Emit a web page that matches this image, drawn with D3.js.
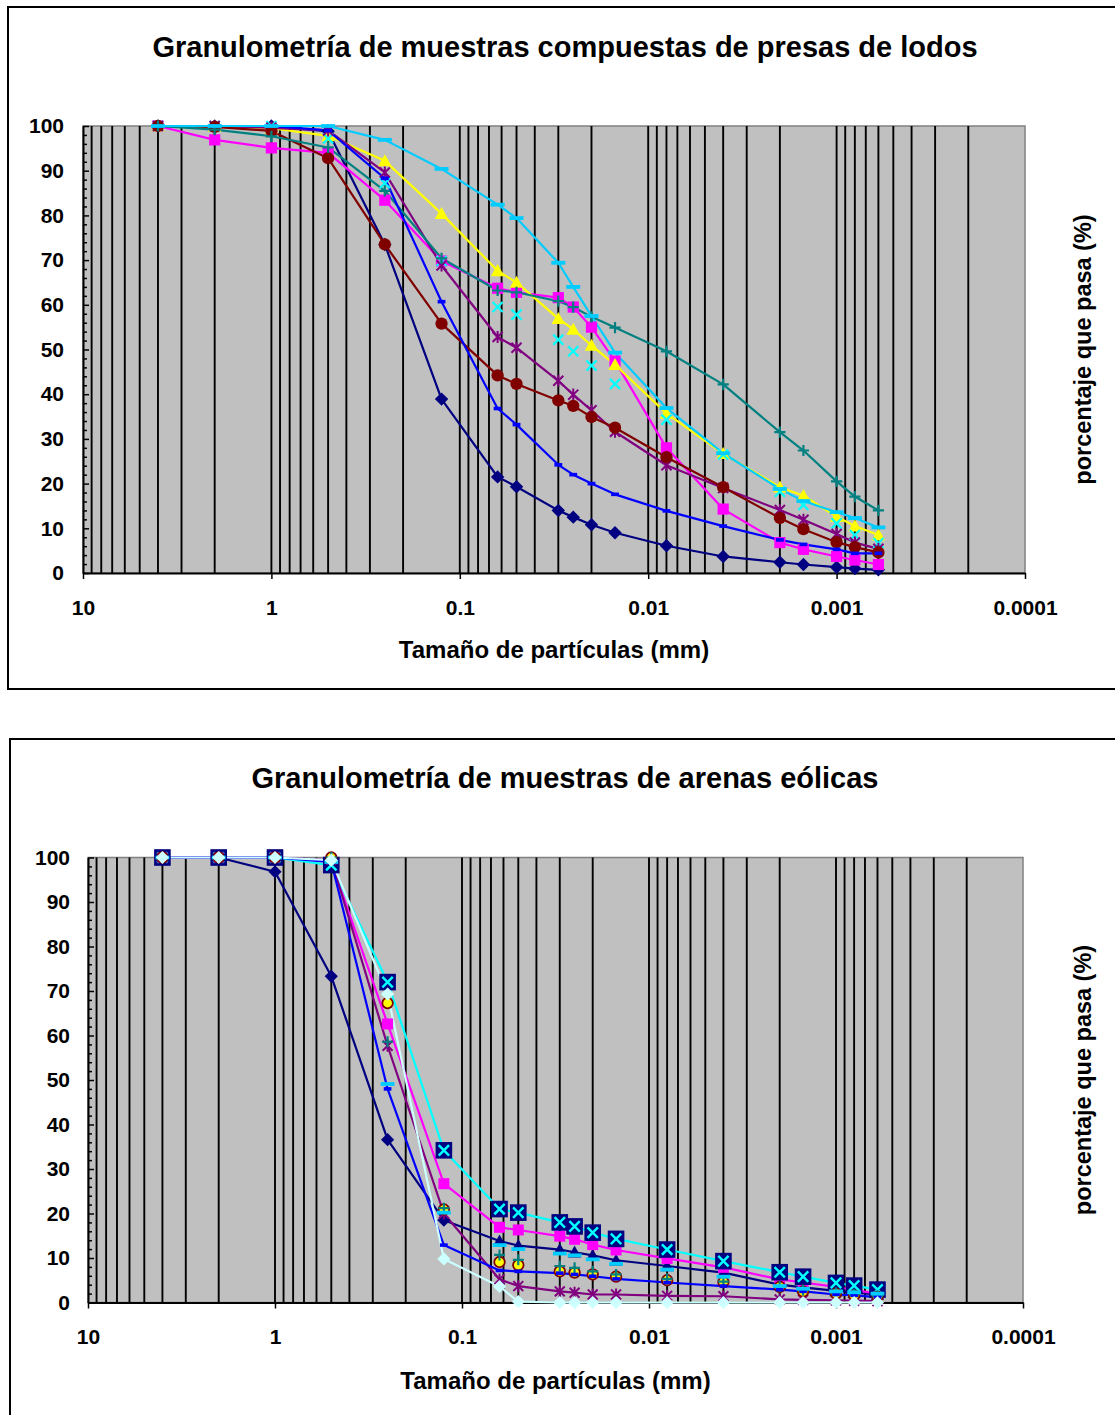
<!DOCTYPE html>
<html>
<head>
<meta charset="utf-8">
<script src="https://cdn.jsdelivr.net/npm/d3@7"></script>
<style>
  html, body { margin: 0; padding: 0; background: #fff; }
  svg { display: block; }
  text { font-family: "Liberation Sans", Arial, sans-serif; font-weight: bold; fill: #000; }
</style>
</head>
<body>
<svg id="chart" width="1115" height="1415"></svg>
<script>
// Particle diameters (mm): sieves, then hydrometer readings
const sizesMm = [4, 2, 1, 0.5, 0.25, 0.125, 0.063, 0.05, 0.03, 0.025, 0.02, 0.015, 0.008, 0.004, 0.002, 0.0015, 0.001, 0.0008, 0.0006];
const hydrometerStart = 6;

const xTickValues = [10, 1, 0.1, 0.01, 0.001, 0.0001];
const xTickLabels = ["10", "1", "0.1", "0.01", "0.001", "0.0001"];
const yTickValues = [0, 10, 20, 30, 40, 50, 60, 70, 80, 90, 100];

// Percent passing — composite tailings-dam samples
const lodos1 = [100, 100, 100, 98.8, 73.5, 38.9, 21.5, 19.3, 14.0, 12.5, 10.8, 9.0, 6.1, 3.7, 2.4, 1.9, 1.3, 1.0, 0.7];
const lodos2 = [100, 96.9, 95.1, 94.0, 83.4, 69.8, 63.7, 62.8, 61.6, 59.5, 55.0, 47.4, 28.0, 14.3, 6.8, 5.3, 3.7, 2.9, 1.9];
const lodos3 = [100, 100, 99.5, 97.8, 92.2, 80.4, 67.6, 65.0, 56.9, 54.5, 50.9, 46.6, 35.7, 26.7, 19.2, 17.3, 12.6, 10.5, 8.5];
const lodos4 = [100, 100, 100, 97.2, 87.2, 69.8, 59.5, 57.8, 52.2, 49.6, 46.4, 42.3, 34.3, 26.5, 18.2, 15.2, 11.1, 8.5, 6.7];
const lodos5 = [100, 100, 99.6, 99.0, 89.6, 68.8, 52.8, 50.4, 43.0, 39.9, 36.4, 31.6, 24.1, 19.0, 14.1, 11.9, 8.7, 6.8, 5.4];
const lodos6 = [100, 99.8, 98.9, 92.8, 73.5, 55.8, 44.2, 42.3, 38.6, 37.4, 34.9, 32.5, 25.9, 19.2, 12.3, 9.8, 6.9, 5.8, 4.6];
const lodos7 = [100, 99.2, 97.7, 95.2, 85.5, 70.4, 63.2, 62.8, 60.8, 59.5, 57.3, 54.9, 49.6, 42.2, 31.5, 27.4, 20.5, 17.1, 14.0];
const lodos8 = [100, 100, 100, 99.0, 88.3, 60.7, 36.8, 33.2, 24.2, 22.0, 20.0, 17.6, 13.9, 10.5, 7.4, 6.4, 5.3, 4.4, 4.4];
const lodos9 = [100, 100, 100, 100, 96.9, 90.4, 82.4, 79.4, 69.4, 64.0, 57.5, 49.3, 36.9, 26.8, 18.8, 16.1, 13.6, 12.3, 10.2];

// Percent passing — aeolian sand samples
const arenas1 = [100, 100, 96.8, 73.3, 36.6, 18.5, 13.8, 12.8, 11.9, 11.3, 10.6, 9.5, 8.2, 6.7, 4.0, 3.4, 2.6, 2.2, 1.8];
const arenas2 = [100, 100, 100, 99.0, 62.6, 26.7, 16.9, 16.3, 14.9, 14.2, 13.0, 11.8, 9.9, 7.9, 5.2, 4.5, 3.5, 2.8, 2.0];
const arenas3 = [100, 100, 100, 100, 67.3, 20.9, 9.1, 8.4, 7.0, 6.7, 6.3, 5.8, 5.0, 4.6, 3.5, 2.5, 2.0, 1.6, 1.3];
const arenas4 = [100, 100, 100, 98.3, 72.0, 34.2, 21.0, 20.2, 18.0, 17.1, 15.7, 14.3, 11.9, 9.3, 6.8, 5.8, 4.4, 3.8, 2.9];
const arenas5 = [100, 100, 100, 99.5, 57.7, 20.0, 5.2, 3.7, 2.5, 2.2, 1.8, 1.8, 1.5, 1.4, 0.7, 0.6, 0.5, 0.4, 0.3];
const arenas6 = [100, 100, 100, 100, 58.6, 21.2, 10.7, 9.6, 8.2, 7.8, 7.0, 6.3, 5.3, 4.7, 3.6, 2.8, 2.2, 1.8, 1.4];
const arenas7 = [100, 100, 100, 99.0, 48.0, 12.9, 7.2, 7.0, 6.6, 6.3, 5.9, 5.3, 4.5, 3.7, 2.9, 2.5, 1.8, 1.6, 1.2];
const arenas8 = [100, 100, 100, 99.0, 49.1, 20.2, 12.9, 12.0, 11.0, 10.6, 9.7, 8.7, 7.4, 5.8, 3.7, 3.1, 2.5, 2.3, 2.0];
const arenas9 = [100, 100, 100, 99.4, 69.3, 9.8, 3.6, 0.2, 0, 0, 0, 0, 0, 0, 0, 0, 0, 0, 0];

const lodosSeries = [
  { values: lodos1, color: "#000080", marker: "diamond", line: true },
  { values: lodos2, color: "#FF00FF", marker: "square", line: true },
  { values: lodos3, color: "#FFFF00", marker: "triangle", line: true },
  { values: lodos4, color: "#00FFFF", marker: "cross", line: false },
  { values: lodos5, color: "#800080", marker: "star", line: true },
  { values: lodos6, color: "#800000", marker: "circle", line: true },
  { values: lodos7, color: "#008080", marker: "plus", line: true },
  { values: lodos8, color: "#0000FF", marker: "dash", line: true },
  { values: lodos9, color: "#00CCFF", marker: "longdash", line: true }
];

const arenasSeries = [
  { values: arenas1, color: "#000080", marker: "diamond", hydroMarker: "triangle", line: true },
  { values: arenas2, color: "#FF00FF", marker: "square", line: true },
  { values: arenas4, color: "#00FFFF", marker: "xbox", line: true },
  { values: arenas5, color: "#800080", marker: "star", line: true },
  { values: arenas3, color: "#800000", marker: "ring", line: false },
  { values: arenas6, color: "#008080", marker: "plus", line: false },
  { values: arenas7, color: "#0000FF", marker: "dash", line: true },
  { values: arenas8, color: "#00CCFF", marker: "longdash", line: false },
  { values: arenas9, color: "#CCFFFF", marker: "diamond", line: true }
];

const svg = d3.select("#chart");

function drawMarker(g, type, x, y, color, s) {
  switch (type) {
    case "diamond": {
      const r = 6 * s;
      g.append("path").attr("d", `M${x},${y - r}L${x + r},${y}L${x},${y + r}L${x - r},${y}Z`).attr("fill", color);
      break;
    }
    case "square": {
      const r = 5 * s;
      g.append("rect").attr("x", x - r).attr("y", y - r).attr("width", 2 * r).attr("height", 2 * r).attr("fill", color);
      break;
    }
    case "triangle": {
      const r = 6 * s;
      g.append("path").attr("d", `M${x},${y - r}L${x + r},${y + r * 0.8}L${x - r},${y + r * 0.8}Z`).attr("fill", color);
      break;
    }
    case "cross": {
      const r = 4.5 * s;
      g.append("path").attr("d", `M${x - r},${y - r}L${x + r},${y + r}M${x - r},${y + r}L${x + r},${y - r}`)
        .attr("stroke", color).attr("stroke-width", 2.2).attr("fill", "none");
      break;
    }
    case "star": {
      const r = 4.5 * s;
      g.append("path").attr("d", `M${x - r},${y - r}L${x + r},${y + r}M${x - r},${y + r}L${x + r},${y - r}M${x},${y - r - 1}L${x},${y + r + 1}`)
        .attr("stroke", color).attr("stroke-width", 2).attr("fill", "none");
      break;
    }
    case "plus": {
      const r = 5 * s;
      g.append("path").attr("d", `M${x - r},${y}L${x + r},${y}M${x},${y - r}L${x},${y + r}`)
        .attr("stroke", color).attr("stroke-width", 2.2).attr("fill", "none");
      break;
    }
    case "circle": {
      g.append("circle").attr("cx", x).attr("cy", y).attr("r", 5.5 * s).attr("fill", color);
      break;
    }
    case "ring": {
      g.append("circle").attr("cx", x).attr("cy", y).attr("r", 4.8 * s)
        .attr("fill", "#FFFF00").attr("stroke", color).attr("stroke-width", 1.8);
      break;
    }
    case "dash": {
      const w = 7 * s, h = 3.6;
      g.append("rect").attr("x", x - w / 2).attr("y", y - h / 2).attr("width", w).attr("height", h).attr("fill", color);
      break;
    }
    case "longdash": {
      const w = 12.5 * s, h = 3.8;
      g.append("rect").attr("x", x - w / 2).attr("y", y - h / 2).attr("width", w).attr("height", h).attr("fill", color);
      break;
    }
    case "xbox": {
      const b = 8.3, r = 5.2;
      g.append("rect").attr("x", x - b).attr("y", y - b).attr("width", 2 * b).attr("height", 2 * b).attr("fill", "#000080");
      g.append("path").attr("d", `M${x - r},${y - r}L${x + r},${y + r}M${x - r},${y + r}L${x + r},${y - r}`)
        .attr("stroke", color).attr("stroke-width", 2.5).attr("fill", "none");
      break;
    }
  }
}

function drawPanel(p) {
  const root = svg.append("g");

  // outer chart frame
  root.append("rect")
    .attr("x", p.frame[0]).attr("y", p.frame[1])
    .attr("width", p.frame[2]).attr("height", p.frame[3])
    .attr("fill", "#fff").attr("stroke", "#000").attr("stroke-width", 2);

  const x = d3.scaleLog().domain([10, 0.0001]).range([p.left, p.right]);
  const y = d3.scaleLinear().domain([0, 100]).range([p.bottom, p.top]);

  // plot area
  root.append("rect")
    .attr("x", p.left).attr("y", p.top)
    .attr("width", p.right - p.left).attr("height", p.bottom - p.top)
    .attr("fill", "#C0C0C0").attr("stroke", "#808080").attr("stroke-width", 1.5);

  // vertical gridlines on every log subdivision
  const gridVals = [];
  for (let k = -4; k <= 0; k++) {
    for (let m = 1; m <= 9; m++) {
      const v = m * Math.pow(10, k);
      if (v > 0.0001 * 1.0001 && v < 10 * 0.9999) gridVals.push(v);
    }
  }
  root.append("g").selectAll("line").data(gridVals).join("line")
    .attr("x1", d => x(d)).attr("x2", d => x(d))
    .attr("y1", p.top).attr("y2", p.bottom)
    .attr("stroke", "#000").attr("stroke-width", 1.9);

  // y axis: minor and major ticks pointing into the plot
  const minorVals = d3.range(0, 101, 2).filter(v => v % 10 !== 0);
  root.append("g").attr("transform", `translate(${p.left},0)`)
    .call(d3.axisLeft(y).tickValues(minorVals).tickSize(-4).tickSizeOuter(0).tickFormat(""))
    .call(g => g.select(".domain").remove())
    .call(g => g.selectAll("line").attr("stroke", "#000").attr("stroke-width", 1.5));

  const yAx = root.append("g").attr("transform", `translate(${p.left},0)`)
    .call(d3.axisLeft(y).tickValues(yTickValues).tickSize(-6).tickSizeOuter(0).tickPadding(p.yPad));
  yAx.select(".domain").attr("stroke", "#000").attr("stroke-width", 2);
  yAx.selectAll("line").attr("stroke", "#000").attr("stroke-width", 1.5);
  yAx.selectAll("text").style("font-size", "21px");

  const xAx = root.append("g").attr("transform", `translate(0,${p.bottom})`)
    .call(d3.axisBottom(x).tickValues(xTickValues).tickFormat((d, i) => xTickLabels[i])
      .tickSize(6).tickSizeOuter(0).tickPadding(21));
  xAx.select(".domain").attr("stroke", "#000").attr("stroke-width", 2);
  xAx.selectAll("line").attr("stroke", "#000").attr("stroke-width", 1.5);
  xAx.selectAll("text").style("font-size", "21px");

  // series lines
  const lineGen = d3.line().x(d => x(d[0])).y(d => y(d[1]));
  const linesG = root.append("g");
  p.series.forEach(s => {
    if (!s.line) return;
    const pts = sizesMm.map((d, i) => [d, s.values[i]]);
    linesG.append("path").attr("d", lineGen(pts))
      .attr("fill", "none").attr("stroke", s.color).attr("stroke-width", 2.2)
      .attr("stroke-linejoin", "round");
  });

  // markers, series by series
  const marksG = root.append("g");
  p.series.forEach(s => {
    sizesMm.forEach((d, i) => {
      const type = (s.hydroMarker && i >= hydrometerStart) ? s.hydroMarker : s.marker;
      drawMarker(marksG, type, x(d), y(s.values[i]), s.color, p.markerScale);
    });
  });

  // titles
  root.append("text").attr("x", 565).attr("y", p.titleY).attr("dy", "0.35em")
    .attr("text-anchor", "middle").style("font-size", "29px").text(p.title);
  root.append("text").attr("x", (p.left + p.right) / 2).attr("y", p.xTitleY).attr("dy", "0.35em")
    .attr("text-anchor", "middle").style("font-size", "24px").text("Tamaño de partículas (mm)");
  root.append("text")
    .attr("transform", `translate(1083,${(p.top + p.bottom) / 2}) rotate(-90)`)
    .attr("dy", "0.35em").attr("text-anchor", "middle").style("font-size", "23.5px")
    .text("porcentaje que pasa (%)");
}

drawPanel({
  frame: [8, 7, 1120, 682],
  left: 83, right: 1025, top: 126, bottom: 573,
  yPad: 19, markerScale: 1.12,
  titleY: 47, xTitleY: 650,
  title: "Granulometría de muestras compuestas de presas de lodos",
  series: lodosSeries
});

drawPanel({
  frame: [10, 739, 1120, 700],
  left: 88, right: 1023, top: 857.5, bottom: 1302.5,
  yPad: 18, markerScale: 1.1,
  titleY: 778, xTitleY: 1381,
  title: "Granulometría de muestras de arenas eólicas",
  series: arenasSeries
});
</script>
</body>
</html>
